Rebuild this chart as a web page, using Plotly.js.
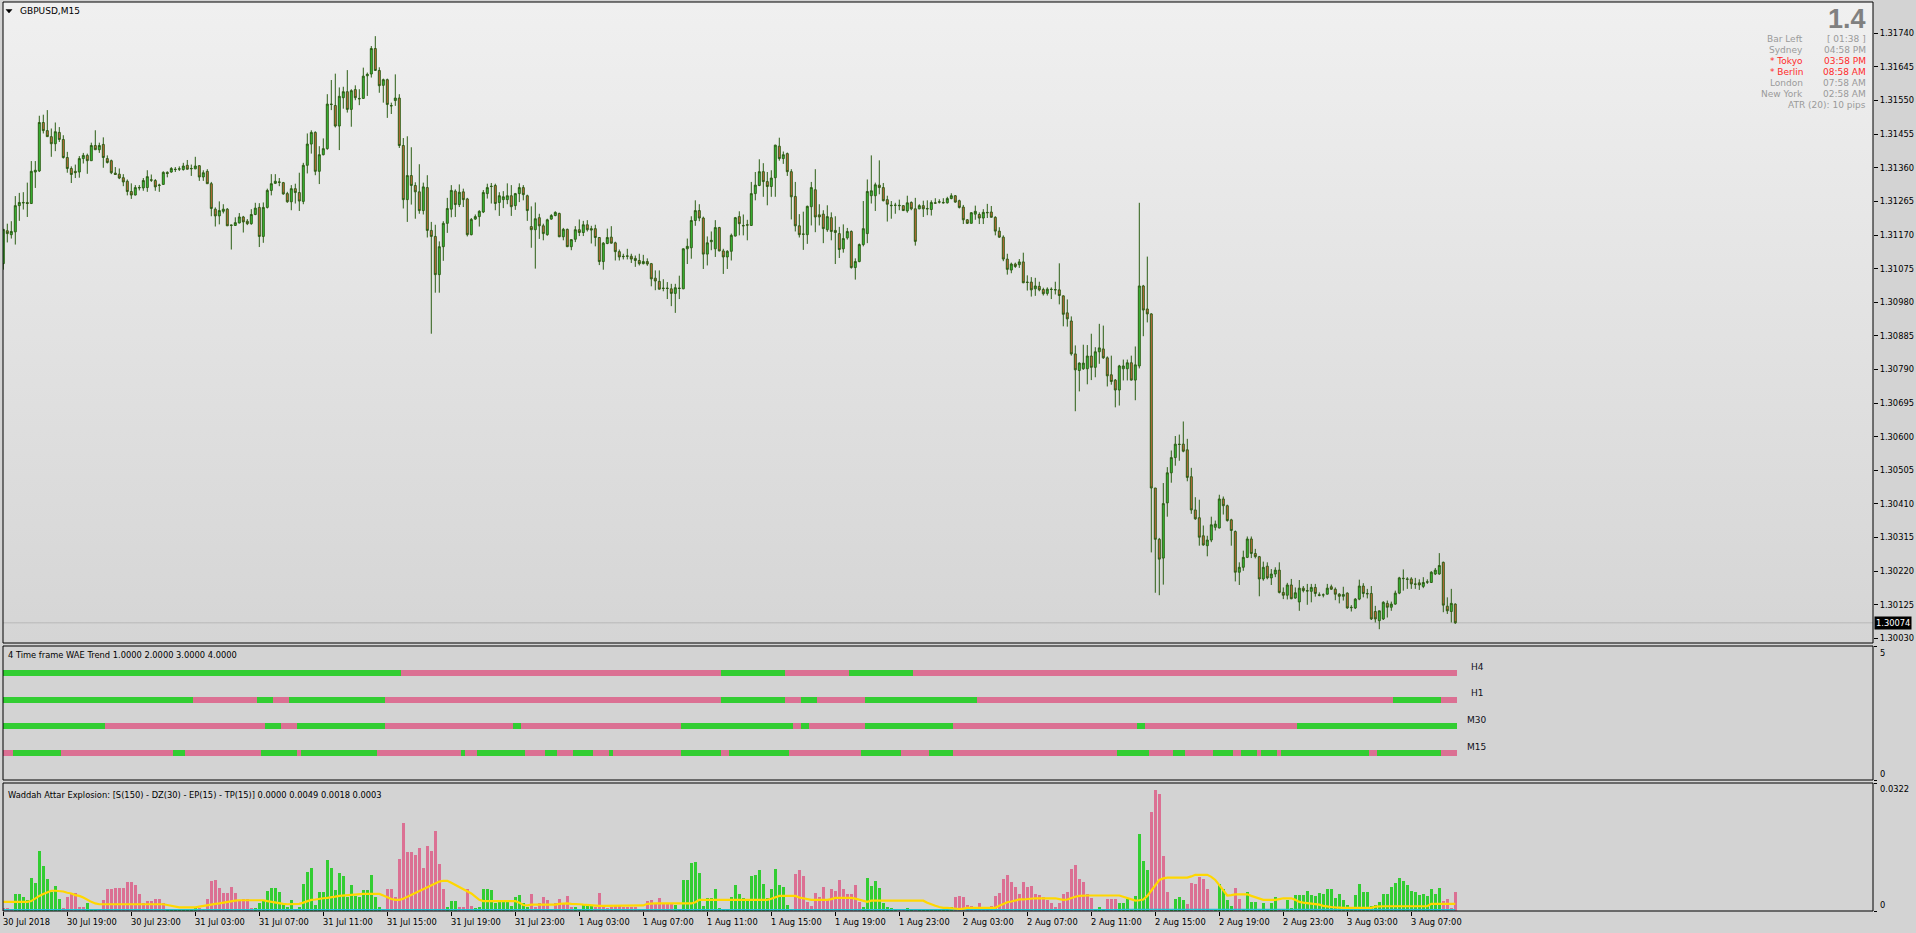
<!DOCTYPE html>
<html>
<head>
<meta charset="utf-8">
<script src="https://cdn.plot.ly/plotly-3.0.1.min.js"></script>
<style>
html,body{margin:0;padding:0;background:#d3d3d3;overflow:hidden;}
#chart{width:1916px;height:933px;}
</style>
</head>
<body>
<div id="chart"></div>
<script>
// ---------- DATA ----------
const symbolTitle = "GBPUSD,M15";
const openP = [
1.31089,1.31182,1.31171,1.31179,1.31253,1.31262,1.31262,1.31259,1.31348,1.31351,
1.31488,1.31465,1.31448,1.31428,1.31460,1.31440,1.31389,1.31358,1.31350,1.31348,
1.31386,1.31395,1.31380,1.31423,1.31411,1.31426,1.31386,1.31380,1.31345,1.31342,
1.31332,1.31322,1.31293,1.31283,1.31303,1.31303,1.31304,1.31326,1.31324,1.31310,
1.31313,1.31347,1.31348,1.31356,1.31356,1.31355,1.31367,1.31357,1.31357,1.31366,
1.31334,1.31350,1.31315,1.31243,1.31224,1.31237,1.31243,1.31197,1.31197,1.31204,
1.31221,1.31209,1.31202,1.31228,1.31248,1.31166,1.31248,1.31296,1.31316,1.31320,
1.31318,1.31287,1.31264,1.31301,1.31290,1.31265,1.31367,1.31427,1.31460,1.31350,
1.31397,1.31414,1.31540,1.31536,1.31478,1.31558,1.31575,1.31525,1.31581,1.31556,
1.31556,1.31620,1.31625,1.31697,1.31635,1.31593,1.31609,1.31536,1.31550,1.31557,
1.31423,1.31270,1.31338,1.31310,1.31292,1.31239,1.31304,1.31183,1.31166,1.31058,
1.31137,1.31203,1.31243,1.31294,1.31256,1.31292,1.31272,1.31171,1.31215,1.31222,
1.31235,1.31287,1.31308,1.31310,1.31262,1.31270,1.31270,1.31281,1.31253,1.31287,
1.31304,1.31281,1.31194,1.31185,1.31219,1.31196,1.31171,1.31215,1.31225,1.31231,
1.31165,1.31186,1.31137,1.31158,1.31185,1.31177,1.31199,1.31188,1.31188,1.31163,
1.31095,1.31146,1.31164,1.31148,1.31123,1.31110,1.31111,1.31110,1.31104,1.31098,
1.31089,1.31095,1.31089,1.31048,1.31039,1.31020,1.31020,1.31018,1.31005,1.31020,
1.31018,1.31131,1.31134,1.31211,1.31239,1.31218,1.31116,1.31151,1.31131,1.31191,
1.31125,1.31108,1.31124,1.31167,1.31222,1.31197,1.31199,1.31197,1.31287,1.31310,
1.31349,1.31321,1.31307,1.31332,1.31421,1.31386,1.31400,1.31349,1.31279,1.31196,
1.31173,1.31171,1.31250,1.31298,1.31227,1.31229,1.31185,1.31219,1.31183,1.31174,
1.31131,1.31162,1.31180,1.31078,1.31095,1.31143,1.31174,1.31281,1.31281,1.31311,
1.31304,1.31270,1.31254,1.31254,1.31254,1.31253,1.31238,1.31262,1.31244,1.31244,
1.31253,1.31245,1.31242,1.31261,1.31264,1.31262,1.31261,1.31273,1.31281,1.31267,
1.31249,1.31213,1.31203,1.31229,1.31228,1.31218,1.31234,1.31235,1.31220,1.31181,
1.31164,1.31102,1.31071,1.31088,1.31086,1.31094,1.31037,1.31037,1.31018,1.31025,
1.31016,1.31005,1.31017,1.31016,1.31015,1.30998,1.30950,1.30927,1.30834,1.30787,
1.30792,1.30792,1.30828,1.30796,1.30840,1.30848,1.30823,1.30775,1.30760,1.30732,
1.30792,1.30792,1.30809,1.30760,1.30800,1.31026,1.30961,1.30947,1.30455,1.30310,
1.30257,1.30413,1.30498,1.30541,1.30579,1.30579,1.30563,1.30487,1.30393,1.30371,
1.30320,1.30292,1.30308,1.30344,1.30342,1.30424,1.30405,1.30365,1.30332,1.30217,
1.30231,1.30259,1.30311,1.30270,1.30261,1.30198,1.30234,1.30201,1.30212,1.30223,
1.30160,1.30152,1.30181,1.30144,1.30133,1.30172,1.30165,1.30163,1.30174,1.30153,
1.30153,1.30155,1.30176,1.30169,1.30155,1.30149,1.30158,1.30118,1.30116,1.30141,
1.30178,1.30157,1.30157,1.30106,1.30080,1.30085,1.30129,1.30118,1.30127,1.30158,
1.30200,1.30198,1.30198,1.30184,1.30187,1.30177,1.30190,1.30188,1.30212,1.30212,
1.30245,1.30121,1.30106,1.30127];
const highP = [
1.31186,1.31202,1.31209,1.31280,1.31289,1.31291,1.31318,1.31379,1.31379,1.31507,
1.31510,1.31523,1.31471,1.31488,1.31475,1.31452,1.31405,1.31364,1.31369,1.31393,
1.31402,1.31400,1.31431,1.31466,1.31431,1.31446,1.31395,1.31383,1.31362,1.31358,
1.31342,1.31327,1.31316,1.31311,1.31311,1.31331,1.31353,1.31341,1.31328,1.31315,
1.31350,1.31350,1.31362,1.31362,1.31364,1.31374,1.31382,1.31369,1.31391,1.31367,
1.31353,1.31356,1.31320,1.31248,1.31265,1.31257,1.31246,1.31199,1.31220,1.31232,
1.31224,1.31215,1.31243,1.31261,1.31260,1.31262,1.31301,1.31342,1.31342,1.31331,
1.31320,1.31292,1.31311,1.31315,1.31346,1.31374,1.31457,1.31466,1.31463,1.31421,
1.31443,1.31568,1.31608,1.31626,1.31587,1.31589,1.31636,1.31582,1.31593,1.31582,
1.31643,1.31629,1.31704,1.31732,1.31644,1.31612,1.31612,1.31544,1.31624,1.31568,
1.31444,1.31449,1.31418,1.31319,1.31370,1.31318,1.31339,1.31207,1.31199,1.31152,
1.31209,1.31275,1.31311,1.31299,1.31313,1.31301,1.31275,1.31218,1.31228,1.31240,
1.31297,1.31315,1.31317,1.31315,1.31291,1.31294,1.31316,1.31311,1.31289,1.31316,
1.31311,1.31284,1.31251,1.31262,1.31230,1.31202,1.31216,1.31229,1.31237,1.31233,
1.31190,1.31188,1.31158,1.31195,1.31214,1.31210,1.31212,1.31196,1.31199,1.31164,
1.31150,1.31188,1.31195,1.31151,1.31129,1.31117,1.31131,1.31117,1.31112,1.31117,
1.31114,1.31104,1.31091,1.31070,1.31070,1.31045,1.31037,1.31032,1.31032,1.31055,
1.31132,1.31160,1.31223,1.31268,1.31257,1.31222,1.31166,1.31180,1.31212,1.31193,
1.31131,1.31127,1.31174,1.31221,1.31237,1.31228,1.31213,1.31320,1.31348,1.31384,
1.31373,1.31348,1.31353,1.31425,1.31445,1.31406,1.31403,1.31356,1.31320,1.31229,
1.31236,1.31253,1.31320,1.31356,1.31257,1.31240,1.31254,1.31234,1.31223,1.31193,
1.31200,1.31190,1.31183,1.31104,1.31146,1.31266,1.31327,1.31395,1.31318,1.31381,
1.31317,1.31281,1.31266,1.31261,1.31270,1.31254,1.31281,1.31265,1.31275,1.31257,
1.31267,1.31268,1.31268,1.31274,1.31271,1.31274,1.31278,1.31288,1.31283,1.31270,
1.31255,1.31215,1.31235,1.31253,1.31234,1.31243,1.31258,1.31252,1.31223,1.31192,
1.31169,1.31117,1.31092,1.31092,1.31102,1.31120,1.31056,1.31051,1.31049,1.31038,
1.31021,1.31022,1.31022,1.31038,1.31090,1.30999,1.30988,1.30940,1.30858,1.30810,
1.30860,1.30859,1.30891,1.30853,1.30919,1.30914,1.30827,1.30829,1.30763,1.30803,
1.30818,1.30818,1.30829,1.30855,1.31261,1.31029,1.31109,1.30949,1.30455,1.30314,
1.30469,1.30514,1.30561,1.30602,1.30606,1.30643,1.30594,1.30512,1.30429,1.30422,
1.30349,1.30320,1.30374,1.30363,1.30436,1.30431,1.30408,1.30368,1.30335,1.30245,
1.30278,1.30318,1.30318,1.30283,1.30263,1.30247,1.30245,1.30226,1.30231,1.30245,
1.30174,1.30187,1.30198,1.30174,1.30195,1.30178,1.30184,1.30184,1.30184,1.30160,
1.30157,1.30184,1.30182,1.30174,1.30158,1.30176,1.30160,1.30124,1.30144,1.30196,
1.30186,1.30170,1.30178,1.30122,1.30108,1.30135,1.30137,1.30134,1.30165,1.30204,
1.30225,1.30203,1.30203,1.30201,1.30197,1.30203,1.30197,1.30220,1.30229,1.30271,
1.30247,1.30146,1.30170,1.30129];
const lowP = [
1.31072,1.31149,1.31160,1.31143,1.31210,1.31242,1.31221,1.31259,1.31303,1.31348,
1.31457,1.31448,1.31391,1.31407,1.31433,1.31386,1.31346,1.31317,1.31331,1.31332,
1.31372,1.31343,1.31380,1.31411,1.31402,1.31360,1.31372,1.31342,1.31341,1.31328,
1.31308,1.31282,1.31272,1.31282,1.31296,1.31295,1.31292,1.31320,1.31295,1.31292,
1.31313,1.31333,1.31346,1.31348,1.31351,1.31352,1.31355,1.31337,1.31356,1.31323,
1.31323,1.31315,1.31223,1.31194,1.31200,1.31231,1.31196,1.31129,1.31196,1.31203,
1.31177,1.31198,1.31199,1.31226,1.31136,1.31148,1.31245,1.31282,1.31314,1.31308,
1.31284,1.31261,1.31240,1.31259,1.31238,1.31257,1.31344,1.31400,1.31339,1.31314,
1.31395,1.31411,1.31523,1.31474,1.31410,1.31527,1.31516,1.31476,1.31551,1.31537,
1.31556,1.31563,1.31615,1.31635,1.31572,1.31544,1.31501,1.31512,1.31535,1.31416,
1.31245,1.31207,1.31256,1.31216,1.31230,1.31228,1.31163,1.30891,1.31007,1.31007,
1.31097,1.31176,1.31220,1.31221,1.31249,1.31249,1.31166,1.31169,1.31213,1.31194,
1.31232,1.31273,1.31259,1.31240,1.31224,1.31246,1.31257,1.31224,1.31241,1.31263,
1.31268,1.31210,1.31134,1.31075,1.31159,1.31155,1.31168,1.31213,1.31223,1.31164,
1.31155,1.31136,1.31127,1.31150,1.31167,1.31167,1.31180,1.31146,1.31138,1.31085,
1.31072,1.31144,1.31146,1.31098,1.31098,1.31101,1.31101,1.31091,1.31080,1.31084,
1.31087,1.31083,1.31025,1.31014,1.31016,1.31011,1.30989,1.30969,1.30950,1.30989,
1.31017,1.31088,1.31103,1.31196,1.31209,1.31074,1.31084,1.31127,1.31108,1.31124,
1.31060,1.31074,1.31098,1.31166,1.31169,1.31169,1.31155,1.31196,1.31268,1.31308,
1.31278,1.31254,1.31278,1.31278,1.31380,1.31371,1.31337,1.31214,1.31180,1.31163,
1.31128,1.31145,1.31197,1.31178,1.31197,1.31147,1.31179,1.31155,1.31088,1.31105,
1.31120,1.31157,1.31075,1.31044,1.31093,1.31138,1.31147,1.31259,1.31238,1.31285,
1.31265,1.31208,1.31216,1.31230,1.31240,1.31238,1.31233,1.31240,1.31140,1.31243,
1.31221,1.31226,1.31225,1.31259,1.31259,1.31259,1.31259,1.31271,1.31261,1.31245,
1.31201,1.31201,1.31203,1.31213,1.31201,1.31201,1.31218,1.31220,1.31169,1.31162,
1.31096,1.31058,1.31062,1.31077,1.31077,1.31034,1.31013,1.30996,1.30998,1.31011,
1.30999,1.30999,1.30989,1.31002,1.30974,1.30912,1.30911,1.30829,1.30672,1.30728,
1.30789,1.30748,1.30760,1.30768,1.30806,1.30820,1.30742,1.30747,1.30683,1.30688,
1.30759,1.30759,1.30759,1.30703,1.30793,1.30884,1.30923,1.30273,1.30159,1.30152,
1.30182,1.30374,1.30470,1.30518,1.30532,1.30556,1.30474,1.30382,1.30365,1.30292,
1.30292,1.30262,1.30302,1.30335,1.30341,1.30380,1.30360,1.30292,1.30191,1.30181,
1.30221,1.30257,1.30257,1.30256,1.30149,1.30193,1.30197,1.30181,1.30203,1.30157,
1.30141,1.30140,1.30141,1.30142,1.30108,1.30160,1.30125,1.30132,1.30148,1.30149,
1.30146,1.30154,1.30167,1.30138,1.30129,1.30137,1.30114,1.30106,1.30113,1.30138,
1.30146,1.30143,1.30082,1.30075,1.30056,1.30082,1.30089,1.30108,1.30125,1.30155,
1.30165,1.30170,1.30170,1.30170,1.30167,1.30172,1.30184,1.30188,1.30209,1.30210,
1.30104,1.30099,1.30075,1.30071];
const closeP = [
1.31186,1.31174,1.31180,1.31253,1.31262,1.31261,1.31259,1.31350,1.31353,1.31488,
1.31465,1.31448,1.31428,1.31462,1.31440,1.31389,1.31358,1.31341,1.31346,1.31386,
1.31395,1.31380,1.31423,1.31411,1.31423,1.31389,1.31375,1.31346,1.31341,1.31331,
1.31320,1.31293,1.31283,1.31304,1.31304,1.31324,1.31335,1.31325,1.31306,1.31311,
1.31347,1.31344,1.31358,1.31355,1.31357,1.31365,1.31356,1.31358,1.31365,1.31334,
1.31346,1.31315,1.31245,1.31224,1.31239,1.31243,1.31196,1.31198,1.31205,1.31221,
1.31207,1.31202,1.31228,1.31246,1.31166,1.31248,1.31296,1.31315,1.31322,1.31319,
1.31286,1.31264,1.31301,1.31290,1.31266,1.31367,1.31427,1.31460,1.31350,1.31397,
1.31414,1.31540,1.31539,1.31478,1.31562,1.31575,1.31525,1.31578,1.31558,1.31555,
1.31619,1.31624,1.31697,1.31635,1.31592,1.31609,1.31539,1.31535,1.31557,1.31423,
1.31270,1.31338,1.31310,1.31292,1.31239,1.31306,1.31183,1.31166,1.31058,1.31137,
1.31203,1.31245,1.31296,1.31256,1.31291,1.31270,1.31171,1.31214,1.31222,1.31237,
1.31290,1.31304,1.31307,1.31259,1.31281,1.31278,1.31281,1.31250,1.31287,1.31304,
1.31284,1.31239,1.31185,1.31216,1.31196,1.31174,1.31213,1.31225,1.31234,1.31165,
1.31186,1.31137,1.31157,1.31185,1.31177,1.31199,1.31185,1.31184,1.31163,1.31095,
1.31147,1.31163,1.31147,1.31123,1.31108,1.31109,1.31110,1.31102,1.31098,1.31089,
1.31095,1.31088,1.31046,1.31040,1.31017,1.31019,1.31019,1.31005,1.31021,1.31019,
1.31131,1.31138,1.31211,1.31239,1.31218,1.31116,1.31148,1.31155,1.31191,1.31125,
1.31108,1.31124,1.31169,1.31219,1.31202,1.31196,1.31198,1.31287,1.31311,1.31349,
1.31321,1.31307,1.31331,1.31424,1.31386,1.31397,1.31349,1.31278,1.31196,1.31171,
1.31172,1.31251,1.31304,1.31221,1.31221,1.31188,1.31222,1.31180,1.31177,1.31129,
1.31160,1.31180,1.31078,1.31095,1.31143,1.31188,1.31293,1.31295,1.31312,1.31304,
1.31267,1.31257,1.31253,1.31254,1.31253,1.31239,1.31261,1.31244,1.31152,1.31253,
1.31244,1.31244,1.31262,1.31260,1.31263,1.31261,1.31273,1.31281,1.31263,1.31248,
1.31213,1.31203,1.31233,1.31237,1.31218,1.31234,1.31233,1.31220,1.31181,1.31164,
1.31102,1.31073,1.31088,1.31081,1.31094,1.31035,1.31036,1.31015,1.31026,1.31015,
1.31004,1.31017,1.31016,1.31015,1.30999,1.30946,1.30933,1.30834,1.30789,1.30808,
1.30808,1.30828,1.30796,1.30840,1.30851,1.30823,1.30772,1.30756,1.30732,1.30800,
1.30800,1.30809,1.30760,1.30803,1.31026,1.30958,1.30947,1.30455,1.30310,1.30254,
1.30411,1.30498,1.30541,1.30579,1.30578,1.30559,1.30485,1.30393,1.30368,1.30316,
1.30294,1.30308,1.30351,1.30353,1.30424,1.30405,1.30363,1.30335,1.30217,1.30231,
1.30259,1.30311,1.30270,1.30261,1.30198,1.30231,1.30201,1.30212,1.30223,1.30160,
1.30152,1.30181,1.30142,1.30159,1.30172,1.30165,1.30164,1.30174,1.30157,1.30152,
1.30153,1.30172,1.30169,1.30155,1.30149,1.30154,1.30116,1.30117,1.30141,1.30178,
1.30157,1.30156,1.30085,1.30085,1.30108,1.30132,1.30118,1.30127,1.30158,1.30201,
1.30199,1.30197,1.30184,1.30183,1.30181,1.30188,1.30189,1.30217,1.30223,1.30236,
1.30124,1.30108,1.30129,1.30074];
const lastPrice = 1.30074;

// WAE histogram: positive = up (green), negative = down (pink)
const waeTrend = [
-0.0008,-0.0008,-0.0005,0.0043,0.0043,0.0034,0.0028,0.0084,0.0071,0.0151,
0.0113,0.0080,0.0049,0.0063,0.0030,-0.0008,-0.0036,-0.0046,-0.0045,-0.0011,
-0.0011,0.0019,0.0004,0.0003,-0.0005,-0.0028,-0.0056,-0.0056,-0.0058,-0.0059,
-0.0059,-0.0073,-0.0072,-0.0065,-0.0043,-0.0021,-0.0024,-0.0024,-0.0029,-0.0029,
-0.0019,0.0004,0.0004,0.0002,0.0002,0.0003,0.0002,0.0005,0.0011,-0.0007,
-0.0003,-0.0031,-0.0076,-0.0078,-0.0057,-0.0046,-0.0046,-0.0060,-0.0045,-0.0028,
-0.0030,-0.0030,-0.0007,0.0008,0.0019,0.0028,0.0050,0.0057,0.0057,0.0047,
0.0019,0.0011,0.0028,0.0003,0.0011,0.0068,0.0097,0.0108,0.0015,0.0049,
0.0049,0.0128,0.0108,0.0053,0.0095,0.0088,0.0036,0.0065,0.0038,0.0034,
0.0053,0.0053,0.0090,0.0034,0.0009,-0.0004,-0.0055,-0.0055,-0.0036,-0.0130,
-0.0222,-0.0149,-0.0149,-0.0141,-0.0159,-0.0107,-0.0164,-0.0152,-0.0202,-0.0118,
-0.0055,0.0011,0.0026,0.0025,-0.0011,-0.0011,-0.0056,-0.0013,0.0007,0.0009,
0.0055,0.0055,0.0053,0.0019,0.0024,0.0024,0.0024,0.0013,0.0034,0.0040,
0.0021,0.0011,-0.0043,-0.0011,-0.0021,-0.0034,-0.0028,-0.0003,-0.0021,-0.0030,
-0.0019,-0.0038,-0.0009,0.0011,0.0004,0.0016,0.0015,0.0015,-0.0011,-0.0045,
-0.0011,-0.0007,-0.0011,-0.0016,-0.0015,-0.0009,-0.0009,-0.0009,-0.0009,-0.0003,
-0.0002,-0.0024,-0.0028,-0.0021,-0.0033,-0.0019,-0.0019,-0.0019,0.0015,0.0004,
0.0078,0.0078,0.0120,0.0124,0.0096,0.0013,0.0033,0.0033,0.0056,0.0007,
0.0005,0.0004,0.0036,0.0065,0.0043,0.0032,0.0029,0.0088,0.0091,0.0104,
0.0068,0.0033,0.0055,0.0106,0.0065,0.0061,0.0016,-0.0004,-0.0093,-0.0102,
-0.0088,-0.0023,-0.0013,-0.0045,-0.0036,-0.0060,-0.0028,-0.0055,-0.0051,-0.0078,
-0.0055,-0.0044,-0.0043,-0.0065,-0.0023,0.0009,0.0084,0.0063,0.0076,0.0059,
0.0019,0.0009,0.0007,0.0004,-0.0005,-0.0005,0.0008,0.0003,-0.0003,0.0002,
0.0002,0.0002,0.0005,0.0002,0.0002,0.0002,0.0002,0.0011,-0.0034,-0.0038,
-0.0034,-0.0015,-0.0013,-0.0011,-0.0021,-0.0011,-0.0011,-0.0013,-0.0038,-0.0046,
-0.0080,-0.0091,-0.0073,-0.0060,-0.0042,-0.0073,-0.0061,-0.0063,-0.0044,-0.0040,
-0.0034,-0.0028,-0.0019,-0.0011,-0.0021,-0.0044,-0.0047,-0.0105,-0.0116,-0.0080,
-0.0073,-0.0043,-0.0033,0.0003,0.0011,0.0004,-0.0031,-0.0031,-0.0031,0.0021,
0.0019,0.0029,0.0004,0.0038,0.0194,0.0126,0.0103,-0.0248,-0.0305,-0.0294,
-0.0138,-0.0049,0.0003,0.0030,0.0036,0.0028,-0.0018,-0.0070,-0.0068,-0.0086,
-0.0081,-0.0055,-0.0003,0.0003,0.0068,0.0055,0.0028,0.0013,-0.0059,-0.0029,
0.0003,0.0048,0.0023,0.0023,0.0004,0.0019,0.0004,0.0019,0.0035,-0.0003,
0.0003,0.0028,0.0008,0.0041,0.0040,0.0040,0.0051,0.0040,0.0039,0.0046,
0.0043,0.0055,0.0055,0.0032,0.0043,0.0028,0.0016,0.0008,0.0040,0.0068,
0.0048,0.0048,0.0013,0.0015,0.0022,0.0043,0.0043,0.0060,0.0070,0.0084,
0.0076,0.0065,0.0050,0.0048,0.0040,0.0043,0.0038,0.0055,0.0044,0.0058,
-0.0025,-0.0030,-0.0008,-0.0049];
const explosionLine = [
.0023,.0023,.0023,.0023,.0023,.0023,.0023,.0025,.0032,.0038,
.0043,.0047,.0051,.0051,.0050,.0049,.0046,.0044,.0040,.0038,
.0034,.0028,.0023,.0019,.0017,.0017,.0017,.0017,.0017,.0017,
.0017,.0017,.0017,.0017,.0017,.0017,.0017,.0017,.0017,.0017,
.0017,.0015,.0013,.0010,.0009,.0009,.0009,.0009,.0009,.0011,
.0013,.0014,.0016,.0018,.0019,.0021,.0023,.0024,.0026,.0027,
.0027,.0027,.0027,.0027,.0027,.0027,.0025,.0023,.0022,.0020,
.0018,.0017,.0017,.0017,.0018,.0021,.0024,.0028,.0029,.0031,
.0032,.0033,.0034,.0036,.0038,.0039,.0039,.0040,.0041,.0043,
.0043,.0043,.0043,.0043,.0043,.0039,.0034,.0030,.0028,.0028,
.0031,.0036,.0041,.0046,.0051,.0055,.0060,.0065,.0070,.0074,
.0076,.0076,.0071,.0066,.0061,.0056,.0051,.0044,.0036,.0028,
.0025,.0025,.0025,.0025,.0025,.0025,.0025,.0025,.0025,.0021,
.0015,.0014,.0016,.0016,.0016,.0016,.0016,.0016,.0016,.0018,
.0019,.0019,.0018,.0018,.0017,.0016,.0015,.0014,.0013,.0013,
.0013,.0013,.0013,.0013,.0013,.0013,.0013,.0013,.0013,.0013,
.0014,.0018,.0019,.0019,.0019,.0019,.0019,.0019,.0019,.0019,
.0019,.0019,.0019,.0022,.0028,.0028,.0028,.0028,.0028,.0028,
.0028,.0028,.0028,.0028,.0028,.0028,.0028,.0028,.0028,.0028,
.0028,.0028,.0031,.0034,.0038,.0038,.0038,.0038,.0038,.0034,
.0032,.0029,.0028,.0028,.0028,.0028,.0028,.0030,.0033,.0033,
.0033,.0033,.0033,.0031,.0028,.0025,.0023,.0026,.0026,.0026,
.0026,.0026,.0026,.0026,.0026,.0026,.0026,.0026,.0026,.0026,
.0026,.0021,.0016,.0013,.0010,.0008,.0008,.0007,.0006,.0005,
.0006,.0008,.0008,.0008,.0008,.0008,.0008,.0008,.0008,.0013,
.0018,.0022,.0024,.0027,.0029,.0029,.0030,.0032,.0032,.0032,
.0032,.0032,.0032,.0032,.0030,.0028,.0029,.0033,.0036,.0038,
.0039,.0039,.0039,.0039,.0039,.0039,.0039,.0039,.0039,.0039,
.0036,.0032,.0028,.0026,.0027,.0029,.0038,.0051,.0065,.0078,
.0082,.0084,.0084,.0084,.0084,.0084,.0084,.0087,.0091,.0091,
.0091,.0091,.0086,.0078,.0065,.0051,.0039,.0040,.0042,.0042,
.0042,.0042,.0038,.0034,.0031,.0028,.0028,.0028,.0028,.0030,
.0032,.0032,.0032,.0028,.0023,.0021,.0020,.0019,.0018,.0016,
.0013,.0011,.0010,.0009,.0008,.0008,.0008,.0008,.0008,.0008,
.0008,.0008,.0008,.0011,.0012,.0012,.0012,.0012,.0012,.0012,
.0012,.0012,.0012,.0012,.0012,.0012,.0012,.0018,.0018,.0018,
.0018,.0018,.0018,.0018];
const deadZone = [
.0003,.0003,.0003,.0003,.0003,.0003,.0003,.0003,.0003,.0003,.0003,.0003,.0003,.0003,.0003,.0003,.0003,.0003,.0003,.0003,
.0003,.0003,.0003,.0003,.0003,.0003,.0003,.0003,.0003,.0003,.0003,.0003,.0003,.0003,.0003,.0003,.0003,.0003,.0003,.0003,
.0003,.0003,.0003,.0003,.0003,.0003,.0003,.0003,.0003,.0003,.0003,.0003,.0003,.0003,.0003,.0003,.0003,.0003,.0003,.0003,
.0003,.0003,.0003,.0003,.0003,.0003,.0003,.0003,.0003,.0003,.0003,.0003,.0003,.0003,.0003,.0003,.0003,.0003,.0003,.0003,
.0003,.0003,.0003,.0003,.0003,.0003,.0003,.0003,.0003,.0003,.0003,.0003,.0003,.0003,.0003,.0003,.0003,.0003,.0003,.0003,
.0003,.0003,.0003,.0003,.0003,.0003,.0003,.0003,.0003,.0003,.0003,.0003,.0003,.0003,.0003,.0003,.0003,.0003,.0003,.0003,
.0003,.0003,.0003,.0003,.0003,.0003,.0003,.0003,.0003,.0003,.0003,.0003,.0003,.0003,.0003,.0003,.0003,.0003,.0003,.0003,
.0002,.0002,.0002,.0002,.0002,.0002,.0002,.0002,.0002,.0002,.0002,.0002,.0002,.0002,.0002,.0002,.0002,.0002,.0002,.0002,
.0003,.0003,.0003,.0003,.0003,.0003,.0003,.0003,.0003,.0003,.0003,.0003,.0003,.0003,.0003,.0003,.0003,.0003,.0003,.0003,
.0003,.0003,.0003,.0003,.0003,.0003,.0003,.0003,.0003,.0003,.0003,.0003,.0003,.0003,.0003,.0003,.0003,.0003,.0003,.0003,
.0003,.0003,.0003,.0003,.0003,.0003,.0003,.0003,.0003,.0003,.0003,.0003,.0003,.0003,.0003,.0003,.0003,.0003,.0003,.0003,
.0002,.0002,.0002,.0002,.0002,.0002,.0002,.0002,.0002,.0002,.0002,.0002,.0002,.0002,.0002,.0002,.0002,.0002,.0002,.0002,
.0003,.0003,.0003,.0003,.0003,.0003,.0003,.0003,.0003,.0003,.0003,.0003,.0003,.0003,.0003,.0003,.0003,.0003,.0003,.0003,
.0003,.0003,.0003,.0003,.0003,.0003,.0003,.0003,.0003,.0003,.0003,.0003,.0003,.0003,.0003,.0003,.0003,.0003,.0003,.0003,
.0004,.0004,.0004,.0004,.0004,.0004,.0004,.0004,.0004,.0004,.0004,.0004,.0004,.0004,.0004,.0004,.0004,.0004,.0004,.0004,
.0004,.0004,.0004,.0004,.0004,.0004,.0004,.0004,.0004,.0004,.0003,.0003,.0003,.0003,.0003,.0003,.0003,.0003,.0003,.0003,
.0003,.0003,.0003,.0003,.0003,.0003,.0003,.0003,.0003,.0003,.0003,.0003,.0003,.0003,.0003,.0003,.0003,.0003,.0003,.0003,
.0003,.0003,.0003,.0003,.0003,.0003,.0003,.0003,.0003,.0003,.0003,.0003,.0003,.0003,.0003,.0003,.0003,.0003,.0003,.0003,
.0003,.0003,.0003,.0003];

// 4-timeframe trend runs: [firstBar, lastBar, 'g' up | 'r' down]
const h4Runs = [[0,99,'g'],[100,179,'r'],[180,195,'g'],[196,211,'r'],[212,227,'g'],[228,363,'r']];
const h1Runs = [[0,47,'g'],[48,63,'r'],[64,67,'g'],[68,71,'r'],[72,95,'g'],[96,179,'r'],[180,195,'g'],[196,199,'r'],[200,203,'g'],[204,215,'r'],[216,243,'g'],[244,347,'r'],[348,359,'g'],[360,363,'r']];
const m30Runs = [[0,25,'g'],[26,65,'r'],[66,69,'g'],[70,73,'r'],[74,95,'g'],[96,127,'r'],[128,129,'g'],[130,169,'r'],[170,197,'g'],[198,199,'r'],[200,201,'g'],[202,215,'r'],[216,237,'g'],[238,283,'r'],[284,285,'g'],[286,323,'r'],[324,363,'g']];
const m15Runs = [[0,2,'r'],[3,14,'g'],[15,42,'r'],[43,45,'g'],[46,64,'r'],[65,73,'g'],[74,74,'r'],[75,93,'g'],[94,114,'r'],[115,115,'g'],[116,118,'r'],[119,130,'g'],[131,135,'r'],[136,138,'g'],[139,142,'r'],[143,147,'g'],[148,151,'r'],[152,152,'g'],[153,169,'r'],[170,179,'g'],[180,181,'r'],[182,196,'g'],[197,214,'r'],[215,224,'g'],[225,231,'r'],[232,237,'g'],[238,278,'r'],[279,286,'g'],[287,292,'r'],[293,295,'g'],[296,302,'r'],[303,307,'g'],[308,309,'r'],[310,313,'g'],[314,314,'r'],[315,318,'g'],[319,319,'r'],[320,341,'g'],[342,343,'r'],[344,359,'g'],[360,363,'r']];
const trendRowNames = ["H4","H1","M30","M15"];
const trendRowLevels = [4,3,2,1];

const priceTicks = [1.31740,1.31645,1.31550,1.31455,1.31360,1.31265,1.31170,1.31075,1.30980,1.30885,1.30790,1.30695,1.30600,1.30505,1.30410,1.30315,1.30220,1.30125,1.30030];
const timeTickBars = [0,16,32,48,64,80,96,112,128,144,160,176,192,208,224,240,256,272,288,304,320,336,352];
const timeTickLabels = ["30 Jul 2018","30 Jul 19:00","30 Jul 23:00","31 Jul 03:00","31 Jul 07:00","31 Jul 11:00","31 Jul 15:00","31 Jul 19:00","31 Jul 23:00","1 Aug 03:00","1 Aug 07:00","1 Aug 11:00","1 Aug 15:00","1 Aug 19:00","1 Aug 23:00","2 Aug 03:00","2 Aug 07:00","2 Aug 11:00","2 Aug 15:00","2 Aug 19:00","2 Aug 23:00","3 Aug 03:00","3 Aug 07:00"];

const infoLabels = ["Bar Left","Sydney","* Tokyo","* Berlin","London","New York"];
const infoValues = ["[ 01:38 ]","04:58 PM","03:58 PM","08:58 AM","07:58 AM","02:58 AM"];
const infoHighlighted = [false,false,true,true,false,false];
const spreadText = "1.4";
const atrText = "ATR (20): 10 pips";
const trendTitle = "4 Time frame WAE Trend 1.0000 2.0000 3.0000 4.0000";
const waeTitle = "Waddah Attar Explosion: [S(150) - DZ(30) - EP(15) - TP(15)] 0.0000 0.0049 0.0018 0.0003";

// ---------- LAYOUT HELPERS ----------
const W = 1916, H = 933;
const M = {l:3, r:43, t:2, b:22};
const PW = W - M.l - M.r, PH = H - M.t - M.b;
const px = x => (x - M.l) / PW;
const py = y => (H - M.b - y) / PH;
const FONT = "DejaVu Sans";
const GREEN = "#32cd32", PINK = "#db7093";

const bars = closeP.map((_, i) => i);

// ---------- TRACES ----------
const traces = [];
traces.push({
  type:"candlestick", x:bars, open:openP, high:highP, low:lowP, close:closeP,
  xaxis:"x", yaxis:"y",
  increasing:{line:{color:"#2c5e14", width:1}, fillcolor:"#39c239"},
  decreasing:{line:{color:"#2c5e14", width:1}, fillcolor:"#cf6a3e"},
  whiskerwidth:0, hoverinfo:"skip", showlegend:false
});

// trend rows (horizontal bars)
function runBars(color){
  const base=[], len=[], lev=[];
  [h4Runs,h1Runs,m30Runs,m15Runs].forEach((runs, r) => {
    runs.forEach(([a,b,c]) => { if (c===color){ base.push(a-0.5); len.push(b-a+1); lev.push(trendRowLevels[r]); } });
  });
  return {type:"bar", orientation:"h", base:base, x:len, y:lev, width:0.23,
    marker:{color: color==='g'?GREEN:PINK, line:{width:0}}, xaxis:"x", yaxis:"y2",
    hoverinfo:"skip", showlegend:false};
}
traces.push(runBars('g'));
traces.push(runBars('r'));

// WAE histogram
traces.push({type:"bar", x:bars, y:waeTrend.map(v => v>0 ? v : null), width:0.72,
  marker:{color:GREEN, line:{width:0}}, xaxis:"x", yaxis:"y3", hoverinfo:"skip", showlegend:false});
traces.push({type:"bar", x:bars, y:waeTrend.map(v => v<0 ? -v : null), width:0.72,
  marker:{color:PINK, line:{width:0}}, xaxis:"x", yaxis:"y3", hoverinfo:"skip", showlegend:false});
traces.push({type:"scatter", mode:"lines", x:bars, y:deadZone,
  line:{color:"#22c4d6", width:1.5}, xaxis:"x", yaxis:"y3", hoverinfo:"skip", showlegend:false});
traces.push({type:"scatter", mode:"lines", x:bars, y:explosionLine,
  line:{color:"#ffd700", width:2.2}, xaxis:"x", yaxis:"y3", hoverinfo:"skip", showlegend:false});

// ---------- ANNOTATIONS ----------
const ann = [];
const txt = (x, y, text, opts={}) => ann.push(Object.assign({
  xref:"paper", yref:"paper", x:px(x), y:py(y), text:text, showarrow:false,
  xanchor:"left", yanchor:"middle", font:{family:FONT, size:8.3, color:"#000"}
}, opts));

txt(18, 11, symbolTitle, {font:{family:FONT, size:9, color:"#000"}});
txt(1868, 19, spreadText, {xanchor:"right", font:{family:"Liberation Sans", size:27, color:"#808080", weight:"bold"}});
const infoY = [39,50,61,72,83,94];
infoLabels.forEach((lab, k) => {
  const col = infoHighlighted[k] ? "#ff2a2a" : "#9a9a9a";
  txt(1805, infoY[k], lab, {xanchor:"right", font:{family:FONT, size:9, color:col}});
  txt(1868, infoY[k], infoValues[k], {xanchor:"right", font:{family:FONT, size:9, color:col}});
});
txt(1868, 105, atrText, {xanchor:"right", font:{family:FONT, size:9, color:"#9a9a9a"}});

txt(6, 655, trendTitle);
txt(6, 795, waeTitle);
const rowLabelX = [1469,1469,1465,1465], rowLabelY = [667,693,720,747];
trendRowNames.forEach((n, k) => txt(rowLabelX[k], rowLabelY[k], n, {font:{family:FONT, size:9, color:"#101020"}}));

// right-axis labels of sub panels
txt(1878, 653, "5");
txt(1878, 774, "0");
txt(1878, 789, "0.0322");
txt(1878, 905, "0");

// current price box
ann.push({xref:"paper", yref:"y", x:1, y:lastPrice, xshift:1, text:lastPrice.toFixed(5), showarrow:false,
  xanchor:"left", yanchor:"middle", bgcolor:"#000", borderpad:1,
  font:{family:FONT, size:8.3, color:"#fff"}});

// time labels (left-aligned at tick like MT4)
timeTickBars.forEach((b, k) => ann.push({xref:"x", yref:"paper", x:b, y:0, yshift:-4, xshift:-2,
  text:timeTickLabels[k], showarrow:false, xanchor:"left", yanchor:"top",
  font:{family:FONT, size:8.3, color:"#000"}}));

// ---------- SHAPES ----------
const mainBottom = py(643), p2Top = py(646), p2Bottom = py(780), p3Top = py(783);
const shapes = [
  {type:"line", xref:"paper", yref:"y", x0:0, x1:1, y0:lastPrice, y1:lastPrice, line:{color:"#b8b8b8", width:1}, layer:"below"},
  {type:"rect", xref:"paper", yref:"paper", x0:0, x1:1, y0:mainBottom, y1:1, line:{color:"#000", width:1}},
  {type:"rect", xref:"paper", yref:"paper", x0:0, x1:1, y0:p2Bottom, y1:p2Top, line:{color:"#000", width:1}},
  {type:"rect", xref:"paper", yref:"paper", x0:0, x1:1, y0:0, y1:p3Top, line:{color:"#000", width:1}},
  {type:"path", xref:"paper", yref:"paper",
   path:`M ${px(6)} ${py(9.5)} L ${px(12)} ${py(9.5)} L ${px(9)} ${py(13)} Z`,
   fillcolor:"#000", line:{color:"#000", width:0.5}}
];

const gradSvg = "<svg xmlns='http://www.w3.org/2000/svg' width='100' height='100' preserveAspectRatio='none'>" +
  "<defs><linearGradient id='g' x1='0' y1='0' x2='0' y2='1'><stop offset='0' stop-color='#f0f0f0'/>" +
  "<stop offset='1' stop-color='#d5d5d5'/></linearGradient></defs><rect width='100' height='100' fill='url(#g)'/></svg>";

const layout = {
  width:W, height:H, margin:M,
  paper_bgcolor:"#d3d3d3", plot_bgcolor:"rgba(0,0,0,0)",
  showlegend:false, hovermode:false, barmode:"overlay", bargap:0,
  font:{family:FONT, size:8.3, color:"#000"},
  xaxis:{range:[-0.075, (1873-3.3)/4], anchor:"y3", tickvals:timeTickBars, ticks:"outside", ticklen:4,
    tickcolor:"#000", showticklabels:false, showgrid:false, zeroline:false, showline:false,
    rangeslider:{visible:false}, fixedrange:true},
  yaxis:{domain:[mainBottom,1], range:[1.30017,1.318285], side:"right", tickvals:priceTicks,
    ticktext:priceTicks.map(v => v.toFixed(5)), ticks:"outside", ticklen:4, tickcolor:"#000",
    tickfont:{family:FONT, size:8.3, color:"#000"}, showgrid:false, zeroline:false, showline:false,
    automargin:false, fixedrange:true},
  yaxis2:{domain:[p2Bottom,p2Top], range:[0,5], side:"right", tickvals:[0,5], ticks:"outside", ticklen:3,
    tickcolor:"#000", showticklabels:false, showgrid:false, zeroline:false, automargin:false, fixedrange:true},
  yaxis3:{domain:[0,p3Top], range:[0,0.0322], side:"right", tickvals:[0,0.0322], ticks:"outside", ticklen:3,
    tickcolor:"#000", showticklabels:false, showgrid:false, zeroline:false, automargin:false, fixedrange:true},
  annotations:ann, shapes:shapes,
  images:[{source:"data:image/svg+xml;charset=utf-8," + encodeURIComponent(gradSvg),
    xref:"paper", yref:"paper", x:0, y:1, sizex:1, sizey:1-mainBottom, xanchor:"left", yanchor:"top",
    sizing:"stretch", layer:"below"}]
};

Plotly.newPlot("chart", traces, layout, {staticPlot:true, displayModeBar:false});
</script>
</body>
</html>
